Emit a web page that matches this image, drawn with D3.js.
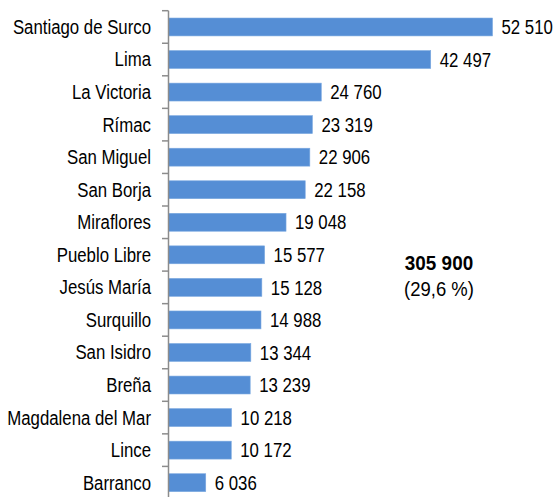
<!DOCTYPE html>
<html>
<head>
<meta charset="utf-8">
<script src="https://cdn.jsdelivr.net/npm/d3@7"></script>
<style>
  html, body { margin: 0; padding: 0; background: #fff; }
  svg { display: block; }
  text { font-family: "Liberation Sans", Arial, sans-serif; fill: #000; }
</style>
</head>
<body>
<script>
const categories = ["Santiago de Surco", "Lima", "La Victoria", "Rímac", "San Miguel", "San Borja",
  "Miraflores", "Pueblo Libre", "Jesús María", "Surquillo", "San Isidro", "Breña",
  "Magdalena del Mar", "Lince", "Barranco"];
const values = [52510, 42497, 24760, 23319, 22906, 22158, 19048, 15577, 15128, 14988, 13344, 13239, 10218, 10172, 6036];
const totalLabel = "305 900";
const shareLabel = "(29,6 %)";

const W = 556, H = 497;
const svg = d3.select("body").append("svg").attr("width", W).attr("height", H);

const axisX = 168.5;
const x = d3.scaleLinear().domain([0, 60000]).range([axisX, axisX + 324 * 60000 / 52510]);
const y = d3.scaleBand().domain(categories).range([10.7, 10.7 + 15 * 32.55])
  .paddingInner(0.45).paddingOuter(0.225);

const loc = d3.formatLocale({ decimal: ",", thousands: " ", grouping: [3], currency: ["", ""] });
const fmt = loc.format(",d");

const fs = 21, sx = 0.8;

// bars
svg.append("g").selectAll("rect").data(values).join("rect")
  .attr("x", x(0))
  .attr("y", (d, i) => y(categories[i]))
  .attr("width", d => x(d) - x(0))
  .attr("height", y.bandwidth())
  .attr("fill", "#558ed5")
  .attr("stroke", "#7aa8e0")
  .attr("stroke-width", 0.6);

// axis line + ticks at band boundaries
const step = y.step();
const r0 = y.range()[0];
const axisG = svg.append("g");
axisG.append("line").attr("x1", axisX).attr("x2", axisX)
  .attr("y1", r0).attr("y2", H).attr("stroke", "#8c8c8c").attr("stroke-width", 1.5);
axisG.selectAll("line.tick").data(d3.range(categories.length + 1)).join("line")
  .attr("class", "tick")
  .attr("x1", axisX - 6.5).attr("x2", axisX)
  .attr("y1", i => r0 + i * step).attr("y2", i => r0 + i * step)
  .attr("stroke", "#8c8c8c").attr("stroke-width", 1.5);

// category labels
svg.append("g").selectAll("text").data(categories).join("text")
  .attr("transform", d => `translate(${axisX - 17.5},${y(d) + y.bandwidth() / 2}) scale(${sx},1)`)
  .attr("text-anchor", "end")
  .attr("dy", "0.33em")
  .attr("font-size", fs)
  .text(d => d);

// value labels
svg.append("g").selectAll("text").data(values).join("text")
  .attr("transform", (d, i) => `translate(${x(d) + 9},${y(categories[i]) + y.bandwidth() / 2}) scale(${sx},1)`)
  .attr("dy", "0.34em")
  .attr("font-size", fs)
  .text(d => fmt(d));

// summary
svg.append("text")
  .attr("transform", `translate(439,270) scale(0.9,1)`)
  .attr("text-anchor", "middle")
  .attr("font-size", fs).attr("font-weight", "bold")
  .text(totalLabel);
svg.append("text")
  .attr("transform", `translate(439,295.5) scale(0.88,1)`)
  .attr("text-anchor", "middle")
  .attr("font-size", fs)
  .text(shareLabel);
</script>
</body>
</html>
